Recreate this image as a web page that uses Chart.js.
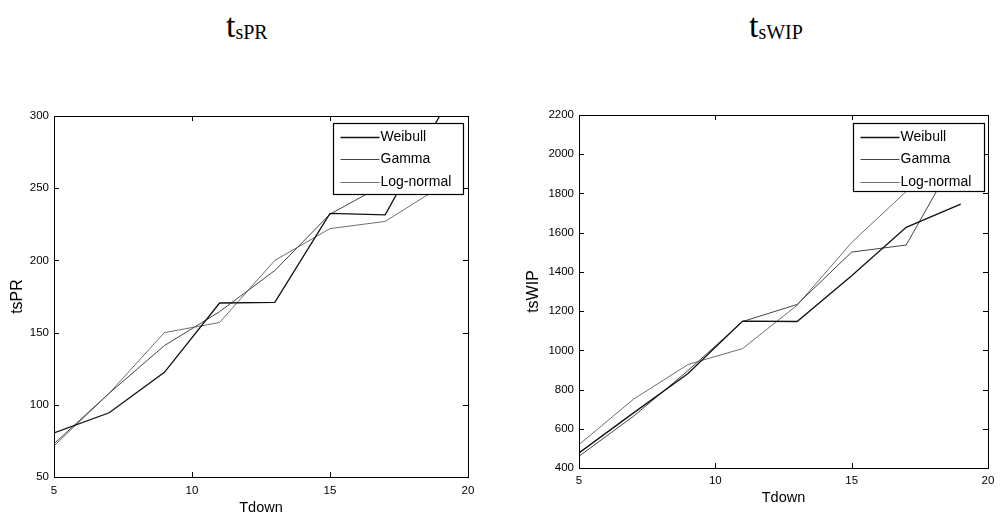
<!DOCTYPE html>
<html>
<head>
<meta charset="utf-8">
<script src="https://cdn.jsdelivr.net/npm/chart.js@4/dist/chart.umd.min.js"></script>
<style>
  body { margin: 0; background: #fff; width: 1005px; height: 529px; position: relative; overflow: hidden; }
  canvas { position: absolute; top: 100px; }
  #sprChart { left: 0; }
  #wipChart { left: 500px; }
  .panel-title {
    position: absolute; top: 9px; margin: 0;
    font-family: "Liberation Serif", "Times New Roman", serif;
    font-size: 34px; line-height: 34px; font-weight: normal; color: #000;
  }
  .panel-title sub { font-size: 20px; vertical-align: -2px; }
</style>
</head>
<body>
<div class="panel-title" style="left:226px">t<sub>sPR</sub></div>
<div class="panel-title" style="left:749px">t<sub>sWIP</sub></div>
<canvas id="sprChart" width="500" height="429"></canvas>
<canvas id="wipChart" width="505" height="429"></canvas>

<script>
const tdown = [5, 7, 9, 11, 13, 15, 17, 19];
const seriesNames = ['Weibull', 'Gamma', 'Log-normal'];

// tsPR vs Tdown
const sprWeibull = [80.5, 94.5, 122.5, 170.5, 171, 232.5, 231.5, 301];
const sprGamma = [73, 108, 141, 164.5, 193, 232, 253, 285];
const sprLognormal = [71.5, 108, 150, 157, 200, 222, 227, 251];

// tsWIP vs Tdown
const wipWeibull = [477, 681, 882, 1149, 1147, 1380, 1627, 1746];
const wipGamma = [460, 664, 897, 1147, 1234, 1501, 1537, 2030];
const wipLognormal = [519, 751, 928, 1009, 1230, 1550, 1810, 2090];

const lineColors = ['#111', '#444', '#6e6e6e'];
const lineWidths = [1.3, 1, 1];

Chart.defaults.font.family = '"Liberation Sans", Arial, sans-serif';
Chart.defaults.color = '#000';

// box around the axes, ticks pointing inward on all four sides, and an outlined legend
const matlabAxes = {
  id: 'matlabAxes',
  afterDraw(chart, args, opts) {
    const { ctx, chartArea: a, scales } = chart;
    const tl = 5;
    ctx.save();
    ctx.strokeStyle = '#000';
    ctx.lineWidth = 1;
    ctx.beginPath();
    scales.x.ticks.forEach(t => {
      const px = Math.round(scales.x.getPixelForValue(t.value)) + 0.5;
      ctx.moveTo(px, a.bottom); ctx.lineTo(px, a.bottom - tl);
      ctx.moveTo(px, a.top); ctx.lineTo(px, a.top + tl);
    });
    scales.y.ticks.forEach(t => {
      const py = Math.round(scales.y.getPixelForValue(t.value)) + 0.5;
      ctx.moveTo(a.left, py); ctx.lineTo(a.left + tl, py);
      ctx.moveTo(a.right, py); ctx.lineTo(a.right - tl, py);
    });
    ctx.stroke();
    ctx.strokeRect(Math.round(a.left) + 0.5, Math.round(a.top) + 0.5,
                   Math.round(a.right - a.left), Math.round(a.bottom - a.top));

    // legend
    const bw = opts.width, bh = opts.height;
    const bx = Math.round(a.right - opts.right - bw) + 0.5;
    const by = Math.round(a.top + opts.top) + 0.5;
    ctx.fillStyle = '#fff';
    ctx.fillRect(bx, by, bw, bh);
    ctx.strokeStyle = '#000';
    ctx.lineWidth = 1.2;
    ctx.strokeRect(bx, by, bw, bh);
    ctx.font = '14px "Liberation Sans", Arial, sans-serif';
    ctx.textBaseline = 'middle';
    ctx.textAlign = 'left';
    chart.data.datasets.forEach((ds, i) => {
      const y = Math.round(by + 13 + i * 22.5) + 0.5;
      ctx.strokeStyle = ds.borderColor;
      ctx.lineWidth = ds.borderWidth;
      ctx.beginPath();
      ctx.moveTo(bx + 7, y);
      ctx.lineTo(bx + 46, y);
      ctx.stroke();
      ctx.fillStyle = '#000';
      ctx.fillText(ds.label, bx + 47, y);
    });
    ctx.restore();
  }
};

function makeDatasets(values) {
  return values.map((vals, i) => ({
    label: seriesNames[i],
    data: tdown.map((x, j) => ({ x: x, y: vals[j] })),
    borderColor: lineColors[i],
    borderWidth: lineWidths[i],
    pointRadius: 0,
    tension: 0,
    fill: false
  }));
}

function drawPanel(canvasId, values, cfg) {
  const ctx = document.getElementById(canvasId).getContext('2d');
  return new Chart(ctx, {
    type: 'line',
    data: { datasets: makeDatasets(values) },
    options: {
      responsive: false,
      animation: false,
      layout: { padding: { left: 0, top: cfg.padTop, right: cfg.padRight, bottom: 0 } },
      plugins: {
        legend: { display: false },
        tooltip: { enabled: false },
        matlabAxes: cfg.legend
      },
      scales: {
        x: {
          type: 'linear',
          min: 5, max: 20,
          grid: { display: false, drawTicks: false },
          border: { display: false },
          ticks: { stepSize: 5, padding: cfg.xTickPad, font: { size: 11.5 }, maxRotation: 0,
                   callback: v => String(v) },
          title: { display: true, text: 'Tdown', font: { size: 14.5 }, padding: { top: 0, bottom: cfg.xTitlePad } },
          afterFit(scale) { scale.height = cfg.xHeight; }
        },
        y: {
          min: cfg.yMin, max: cfg.yMax,
          grid: { display: false, drawTicks: false },
          border: { display: false },
          ticks: { stepSize: cfg.yStep, padding: 5, font: { size: 11.5 },
                   callback: v => String(v) },
          title: { display: true, text: cfg.yTitle, font: { size: 16 }, padding: { top: cfg.yTitlePad, bottom: 0 } },
          afterFit(scale) { scale.width = cfg.yWidth; }
        }
      }
    },
    plugins: [matlabAxes]
  });
}

drawPanel('sprChart', [sprWeibull, sprGamma, sprLognormal], {
  padTop: 16, padRight: 32, xHeight: 52, yWidth: 54,
  xTickPad: 7, xTitlePad: 12, yTitlePad: 8,
  yMin: 50, yMax: 300, yStep: 50, yTitle: 'tsPR',
  legend: { right: 5, top: 7, width: 130, height: 71 }
});

drawPanel('wipChart', [wipWeibull, wipGamma, wipLognormal], {
  padTop: 15, padRight: 17, xHeight: 61, yWidth: 79,
  xTickPad: 6, xTitlePad: 22, yTitlePad: 24,
  yMin: 400, yMax: 2200, yStep: 200, yTitle: 'tsWIP',
  legend: { right: 4, top: 8, width: 131, height: 68 }
});
</script>
</body>
</html>
